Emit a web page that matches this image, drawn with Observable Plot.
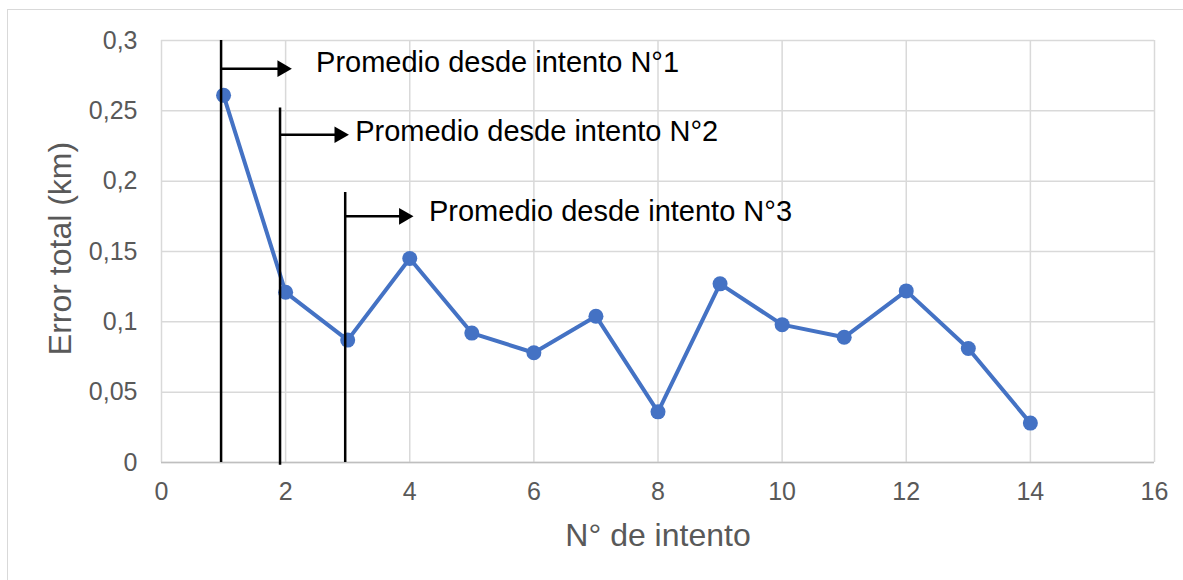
<!DOCTYPE html>
<html>
<head>
<meta charset="utf-8">
<script src="https://cdn.jsdelivr.net/npm/d3@7"></script>
<script src="https://cdn.jsdelivr.net/npm/@observablehq/plot@0.6"></script>
<style>
  html, body { margin: 0; padding: 0; background: #fff; overflow: hidden; }
  #wrap { position: relative; width: 1183px; height: 580px; }
  #border { position: absolute; left: 7px; top: 9px; width: 1190px; height: 600px;
            border: 1.5px solid #d9d9d9; box-sizing: border-box; }
  #chart { position: absolute; left: 0; top: 0; }
</style>
</head>
<body>
<div id="wrap"><div id="border"></div><div id="chart"></div></div>
<script>
// Error total por intento
const intento = [1, 2, 3, 4, 5, 6, 7, 8, 9, 10, 11, 12, 13, 14];
const errorTotal = [0.261, 0.121, 0.087, 0.145, 0.092, 0.078, 0.104, 0.036, 0.127, 0.098, 0.089, 0.122, 0.081, 0.028];

// Ticks
const xTicks = [0, 2, 4, 6, 8, 10, 12, 14, 16];
const yTicks = [0, 0.05, 0.1, 0.15, 0.2, 0.25, 0.3];

// Marcadores "Promedio desde intento N°…"
const markerLabels = ["Promedio desde intento N°1", "Promedio desde intento N°2", "Promedio desde intento N°3"];
const markerX = [0.96, 1.91, 2.96];
const markerBottom = [0, -0.002, 0];
const markerTop = [0.3, 0.252, 0.192];
const arrowY = [0.28, 0.233, 0.175];
const arrowEndX = [2.1, 3.02, 4.06];
const labelX = [2.49, 3.12, 4.31];
const labelY = [0.284, 0.235, 0.178];

const points = intento.map((x, i) => ({x, y: errorTotal[i]}));
const markers = markerLabels.map((label, i) => ({
  label,
  x: markerX[i], y1: markerBottom[i], y2: markerTop[i],
  ay: arrowY[i], ax1: markerX[i] + 0.02, ax2: arrowEndX[i] - 0.1,
  tip: arrowEndX[i],
  lx: labelX[i], ly: labelY[i]
}));

const comma = d => String(d).replace(".", ",");
const gray = "#595959";

const chart = Plot.plot({
  width: 1183,
  height: 580,
  marginLeft: 161,
  marginRight: 29,
  marginTop: 40,
  marginBottom: 118,
  style: {fontFamily: "Arial, 'Liberation Sans', sans-serif", background: "transparent", overflow: "visible"},
  x: {domain: [0, 16]},
  y: {domain: [0, 0.3]},
  marks: [
    Plot.gridX(xTicks, {stroke: "#d9d9d9", strokeOpacity: 1, strokeWidth: 1.5}),
    Plot.gridY(yTicks, {stroke: "#d9d9d9", strokeOpacity: 1, strokeWidth: 1.5}),
    Plot.ruleY([0], {stroke: "#bfbfbf", strokeWidth: 1.5}),
    Plot.axisX(xTicks, {tickSize: 0, tickPadding: 20, fontSize: 25, color: gray, tickFormat: comma, label: null}),
    Plot.axisY(yTicks, {tickSize: 0, tickPadding: 24, fontSize: 25, color: gray, tickFormat: comma, label: null}),
    Plot.text(["N° de intento"], {frameAnchor: "bottom", dy: 73, fontSize: 32, fill: gray, textAnchor: "middle", lineAnchor: "middle"}),
    Plot.text(["Error total (km)"], {frameAnchor: "left", dx: -101, dy: -3, rotate: -90, fontSize: 32, fill: gray, textAnchor: "middle", lineAnchor: "middle"}),
    // Serie
    Plot.line(points, {x: "x", y: "y", stroke: "#4472C4", strokeWidth: 4}),
    Plot.dot(points, {x: "x", y: "y", r: 7.5, fill: "#4472C4"}),
    // Líneas verticales y flechas
    Plot.ruleX(markers, {x: "x", y1: "y1", y2: "y2", stroke: "black", strokeWidth: 2.5}),
    Plot.ruleY(markers, {y: "ay", x1: "ax1", x2: "ax2", stroke: "black", strokeWidth: 2.5}),
    Plot.dot(markers, {x: "tip", y: "ay", symbol: "triangle", rotate: 90, r: 6.2, dx: -9.6, fill: "black", stroke: "none"}),
    Plot.text(markers, {x: "lx", y: "ly", text: "label", textAnchor: "start", lineAnchor: "middle", fontSize: 29, fill: "black"})
  ]
});
document.getElementById("chart").appendChild(chart);
</script>
</body>
</html>
